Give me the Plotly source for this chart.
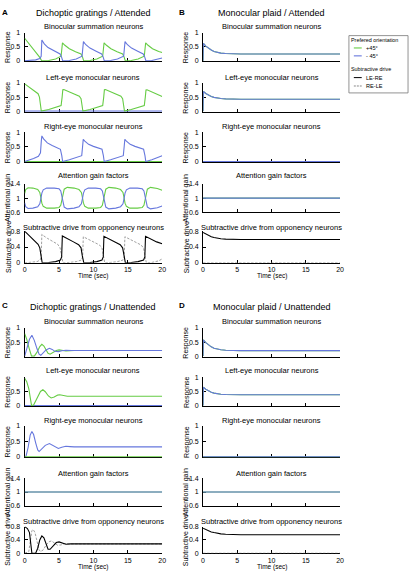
import plotly.graph_objects as go

# ---------------- data (time in s, value) ----------------
FLAT_T = [0, 20]
ZERO = [0, 0]
ONE = [1, 1]

# Panel A: dichoptic gratings / attended
A_bin_green = [(0,0.80),(0.6,0.62),(1.2,0.44),(1.8,0.26),(2.2,0.12),(2.4,0.03),(2.5,0.0),
    (3.5,0.01),(4.5,0.06),(5.3,0.16),(5.5,0.64),(5.85,0.55),(6.5,0.43),(7.4,0.32),(8.2,0.24),(8.42,0.13),(8.58,0.0),
    (9.5,0.01),(10.5,0.06),(11.35,0.16),(11.55,0.64),(11.9,0.55),(12.55,0.43),(13.45,0.32),(14.25,0.24),(14.47,0.13),(14.63,0.0),
    (15.5,0.01),(16.5,0.06),(17.4,0.16),(17.6,0.64),(17.95,0.55),(18.6,0.43),(19.5,0.33),(20,0.29)]
A_bin_blue = [(0,0.0),(0.8,0.01),(1.6,0.03),(2.2,0.08),(2.4,0.16),(2.5,0.74),(2.85,0.6),(3.4,0.47),(4.3,0.34),(5.15,0.24),(5.37,0.13),(5.53,0.0),
    (6.5,0.01),(7.5,0.06),(8.35,0.16),(8.55,0.68),(8.9,0.57),(9.5,0.45),(10.4,0.34),(11.2,0.24),(11.42,0.13),(11.58,0.0),
    (12.5,0.01),(13.5,0.06),(14.4,0.16),(14.6,0.68),(14.95,0.57),(15.55,0.45),(16.45,0.34),(17.25,0.24),(17.47,0.13),(17.63,0.0),
    (18.5,0.01),(19.5,0.06),(20,0.1)]
A_le_green = [(0,0.97),(0.5,0.88),(1.0,0.79),(1.5,0.7),(1.95,0.62),(2.15,0.5),(2.3,0.15),(2.42,0.0),
    (3.5,0.06),(4.5,0.13),(5.3,0.2),(5.45,0.5),(5.55,0.76),(5.7,0.77),(6.5,0.68),(7.3,0.6),(7.95,0.53),(8.2,0.44),(8.35,0.12),(8.47,0.0),
    (9.5,0.06),(10.5,0.13),(11.35,0.2),(11.5,0.5),(11.6,0.76),(11.75,0.77),(12.55,0.68),(13.35,0.6),(14.0,0.53),(14.25,0.44),(14.4,0.12),(14.52,0.0),
    (15.5,0.06),(16.5,0.13),(17.4,0.2),(17.55,0.5),(17.65,0.75),(17.8,0.76),(18.6,0.67),(19.4,0.58),(20,0.52)]
A_re_blue = [(0,0.0),(0.6,0.04),(1.3,0.1),(2.0,0.18),(2.3,0.3),(2.42,0.7),(2.5,0.88),(2.75,0.78),(3.3,0.64),(4.0,0.55),(4.8,0.48),(5.2,0.42),(5.4,0.2),(5.52,0.0),
    (6.5,0.06),(7.5,0.13),(8.3,0.2),(8.42,0.5),(8.52,0.76),(8.75,0.7),(9.3,0.59),(10.0,0.52),(10.8,0.47),(11.25,0.42),(11.45,0.2),(11.57,0.0),
    (12.5,0.06),(13.5,0.13),(14.35,0.2),(14.47,0.5),(14.57,0.76),(14.8,0.7),(15.35,0.59),(16.05,0.52),(16.85,0.47),(17.3,0.42),(17.5,0.2),(17.62,0.0),
    (18.5,0.06),(19.5,0.14),(20,0.2)]
A_att_green = [(0,1.13),(0.15,1.24),(0.5,1.29),(1.2,1.28),(1.9,1.24),(2.2,1.16),(2.35,1.02),(2.5,0.86),(2.7,0.77),(3.2,0.72),(4.3,0.72),(5.0,0.74),
    (5.25,0.8),(5.4,0.94),(5.55,1.12),(5.75,1.25),(6.2,1.3),(7.2,1.28),(7.9,1.24),(8.25,1.16),(8.4,1.02),(8.55,0.86),(8.75,0.77),(9.25,0.72),
    (10.35,0.72),(11.05,0.74),(11.3,0.8),(11.45,0.94),(11.6,1.12),(11.8,1.25),(12.25,1.3),(13.25,1.28),(13.95,1.24),(14.3,1.16),(14.45,1.02),
    (14.6,0.86),(14.8,0.77),(15.3,0.72),(16.4,0.72),(17.1,0.74),(17.35,0.8),(17.5,0.94),(17.65,1.12),(17.85,1.25),(18.3,1.3),(19.3,1.27),(20,1.22)]
A_att_blue = [(0,0.87),(0.15,0.76),(0.5,0.71),(1.2,0.72),(1.9,0.76),(2.2,0.84),(2.35,0.98),(2.5,1.14),(2.7,1.23),(3.2,1.28),(4.3,1.28),(5.0,1.26),
    (5.25,1.2),(5.4,1.06),(5.55,0.88),(5.75,0.75),(6.2,0.7),(7.2,0.72),(7.9,0.76),(8.25,0.84),(8.4,0.98),(8.55,1.14),(8.75,1.23),(9.25,1.28),
    (10.35,1.28),(11.05,1.26),(11.3,1.2),(11.45,1.06),(11.6,0.88),(11.8,0.75),(12.25,0.7),(13.25,0.72),(13.95,0.76),(14.3,0.84),(14.45,0.98),
    (14.6,1.14),(14.8,1.23),(15.3,1.28),(16.4,1.28),(17.1,1.26),(17.35,1.2),(17.5,1.06),(17.65,0.88),(17.85,0.75),(18.3,0.7),(19.3,0.73),(20,0.78)]
A_sub_LERE = [(0,0.8),(0.5,0.71),(1.0,0.62),(1.5,0.54),(1.95,0.47),(2.2,0.38),(2.35,0.18),(2.45,0.04),(2.55,0.0),
    (3.5,0.01),(4.5,0.03),(5.2,0.07),(5.38,0.15),(5.48,0.68),(5.6,0.67),(6.3,0.6),(7.1,0.53),(7.85,0.46),(8.2,0.38),(8.38,0.18),(8.5,0.04),(8.6,0.0),
    (9.5,0.01),(10.5,0.03),(11.25,0.07),(11.43,0.15),(11.53,0.67),(11.65,0.66),(12.35,0.59),(13.15,0.52),(13.9,0.46),(14.25,0.38),(14.43,0.18),(14.55,0.04),(14.65,0.0),
    (15.5,0.01),(16.5,0.03),(17.3,0.07),(17.48,0.15),(17.58,0.67),(17.7,0.66),(18.4,0.59),(19.2,0.53),(20,0.48)]
A_sub_RELE = [(0,0.0),(1.0,0.01),(1.8,0.03),(2.25,0.07),(2.4,0.15),(2.5,0.72),(2.62,0.7),(3.3,0.62),(4.1,0.54),(4.8,0.47),(5.15,0.38),(5.35,0.18),(5.47,0.04),(5.57,0.0),
    (6.5,0.01),(7.5,0.03),(8.25,0.07),(8.43,0.15),(8.53,0.66),(8.65,0.65),(9.35,0.58),(10.15,0.51),(10.9,0.45),(11.25,0.37),(11.43,0.18),(11.55,0.04),(11.65,0.0),
    (12.5,0.01),(13.5,0.03),(14.3,0.07),(14.48,0.15),(14.58,0.66),(14.7,0.65),(15.4,0.58),(16.2,0.51),(16.95,0.45),(17.3,0.37),(17.48,0.18),(17.6,0.04),(17.7,0.0),
    (18.5,0.01),(19.5,0.05),(20,0.1)]

# Panel B: monocular plaid / attended
B_bin = [(0,0.0),(0.05,0.62),(0.4,0.52),(0.8,0.44),(1.2,0.38),(1.6,0.33),(2.0,0.3),(2.6,0.27),(3.3,0.255),(4.2,0.245),(5.5,0.24),(20,0.24)]
B_le = [(0,0.0),(0.05,0.7),(0.4,0.63),(0.8,0.57),(1.2,0.52),(1.6,0.49),(2.0,0.47),(2.6,0.45),(3.3,0.435),(4.2,0.43),(5.5,0.425),(20,0.425)]
B_sub = [(0,0.77),(0.4,0.73),(0.8,0.69),(1.2,0.66),(1.6,0.64),(2.0,0.625),(2.6,0.61),(3.3,0.6),(4.2,0.595),(5.5,0.59),(20,0.59)]

# Panel C: dichoptic gratings / unattended
C_bin_green = [(0,0.8),(0.3,0.6),(0.6,0.32),(0.85,0.06),(1.0,0.0),(1.4,0.0),(1.8,0.14),(2.2,0.34),(2.5,0.42),(2.8,0.36),(3.1,0.22),(3.4,0.1),
    (3.7,0.07),(4.1,0.13),(4.6,0.2),(5.0,0.22),(5.5,0.2),(6.0,0.18),(6.6,0.19),(7.2,0.2),(20,0.2)]
C_bin_blue = [(0,0.0),(0.3,0.25),(0.7,0.6),(1.05,0.74),(1.4,0.56),(1.8,0.26),(2.1,0.07),(2.35,0.03),(2.7,0.11),(3.1,0.22),(3.6,0.28),(4.0,0.24),
    (4.4,0.17),(4.9,0.16),(5.4,0.19),(6.0,0.21),(6.8,0.2),(20,0.2)]
C_le_green = [(0,0.97),(0.3,0.85),(0.6,0.6),(0.85,0.2),(1.0,0.0),(1.3,0.02),(1.8,0.25),(2.3,0.5),(2.65,0.56),(3.0,0.49),(3.45,0.34),(3.85,0.27),
    (4.3,0.3),(4.8,0.37),(5.1,0.38),(5.6,0.35),(6.2,0.33),(7.0,0.33),(20,0.33)]
C_re_blue = [(0,0.0),(0.2,0.02),(0.5,0.3),(0.8,0.7),(1.05,0.82),(1.3,0.72),(1.6,0.45),(1.9,0.22),(2.1,0.17),(2.5,0.25),(3.0,0.37),(3.6,0.43),
    (4.1,0.37),(4.6,0.29),(4.9,0.27),(5.4,0.31),(6.0,0.34),(6.6,0.33),(7.2,0.32),(20,0.32)]
C_sub_LERE = [(0,0.8),(0.4,0.74),(0.7,0.62),(0.85,0.4),(0.95,0.12),(1.05,0.0),(1.6,0.0),(1.9,0.15),(2.2,0.4),(2.5,0.52),(2.8,0.46),(3.1,0.26),
    (3.4,0.12),(3.7,0.12),(4.1,0.22),(4.6,0.32),(5.0,0.34),(5.5,0.3),(6.0,0.27),(6.7,0.28),(20,0.28)]
C_sub_RELE = [(0,0.0),(0.6,0.05),(0.85,0.4),(1.05,0.68),(1.25,0.71),(1.5,0.62),(1.8,0.36),(2.05,0.12),(2.3,0.05),(2.7,0.1),(3.1,0.24),(3.5,0.34),
    (3.9,0.37),(4.3,0.31),(4.8,0.24),(5.3,0.25),(5.8,0.29),(6.5,0.28),(20,0.28)]

# Panel D: monocular plaid / unattended
D_bin = [(0,0.0),(0.05,0.58),(0.4,0.48),(0.8,0.39),(1.2,0.33),(1.6,0.28),(2.0,0.25),(2.6,0.225),(3.3,0.21),(4.2,0.2),(5.5,0.196),(20,0.196)]
D_le = [(0,0.0),(0.05,0.65),(0.4,0.58),(0.8,0.52),(1.2,0.47),(1.6,0.44),(2.0,0.42),(2.6,0.4),(3.3,0.39),(4.2,0.385),(5.5,0.38),(20,0.38)]
D_sub = [(0,0.75),(0.4,0.71),(0.8,0.67),(1.2,0.64),(1.6,0.62),(2.0,0.6),(2.6,0.58),(3.3,0.57),(4.2,0.56),(5.5,0.555),(20,0.555)]

PANEL_TITLES = ["Dichoptic gratings / Attended", "Monocular plaid / Attended",
                "Dichoptic gratings / Unattended", "Monocular plaid / Unattended"]
PANEL_LETTERS = ["A", "B", "C", "D"]
ROW_TITLES = ["Binocular summation neurons", "Left-eye monocular neurons", "Right-eye monocular neurons",
              "Attention gain factors", "Subtractive drive from opponency neurons"]
ROW_YLABELS = ["Response", "Response", "Response", "Attentional gain", "Subtractive drive"]
X_TICKS = [0, 5, 10, 15, 20]
LEGEND_HEAD_1 = "Prefered orientation"
LEGEND_ORI = ["+45°", "- 45°"]
LEGEND_HEAD_2 = "Subtractive drive"
LEGEND_SUB = ["LE-RE", "RE-LE"]

# ---------------- styles / layout ----------------
W, H = 415, 577
FONT = "Liberation Sans, Arial, Helvetica, sans-serif"
GREEN = "#66cc44"
BLUE = "#6677dd"
BLACK = "#000000"
DASH = "#888888"

COLS = [(23, 162.5), (204, 343), (23, 162.5), (204, 343)]
ROWS_TOP = [(29, 58), (80, 109), (130, 160), (182, 211), (230, 262)]
ROWS_BOT = [(328, 357), (378, 407), (427, 459), (480, 508), (529, 556)]
TITLE_Y_TOP = [23, 74, 124, 174, 226]
TITLE_Y_BOT = [321, 371, 422, 475, 524]


def unz(pairs):
    return [p[0] for p in pairs], [p[1] for p in pairs]


def px_x(x):
    return x / W


def px_y(y):
    return 1 - y / H


def flat(vals):
    return list(zip(FLAT_T, vals))


fig = go.Figure()

panels = [
    [  # A
        [(A_bin_green, GREEN, None), (A_bin_blue, BLUE, None)],
        [(flat(ZERO), BLUE, None), (A_le_green, GREEN, None)],
        [(flat(ZERO), GREEN, None), (A_re_blue, BLUE, None)],
        [(A_att_green, GREEN, None), (A_att_blue, BLUE, None)],
        [(A_sub_RELE, DASH, "2.5px,1.5px"), (A_sub_LERE, BLACK, None)],
    ],
    [  # B
        [(B_bin, GREEN, None), (B_bin, BLUE, None)],
        [(B_le, GREEN, None), (B_le, BLUE, None)],
        [(flat(ZERO), GREEN, None), (flat(ZERO), BLUE, None)],
        [(flat(ONE), GREEN, None), (flat(ONE), BLUE, None)],
        [(flat(ZERO), DASH, "2.5px,1.5px"), (B_sub, BLACK, None)],
    ],
    [  # C
        [(C_bin_green, GREEN, None), (C_bin_blue, BLUE, None)],
        [(flat(ZERO), BLUE, None), (C_le_green, GREEN, None)],
        [(C_re_blue, BLUE, None), (flat(ZERO), GREEN, None)],
        [(flat(ONE), GREEN, None), (flat(ONE), BLUE, None)],
        [(C_sub_RELE, DASH, "2.5px,1.5px"), (C_sub_LERE, BLACK, None)],
    ],
    [  # D
        [(D_bin, GREEN, None), (D_bin, BLUE, None)],
        [(D_le, GREEN, None), (D_le, BLUE, None)],
        [(flat(ZERO), GREEN, None), (flat(ZERO), BLUE, None)],
        [(flat(ONE), GREEN, None), (flat(ONE), BLUE, None)],
        [(flat(ZERO), DASH, "2.5px,1.5px"), (D_sub, BLACK, None)],
    ],
]

annotations = []
shapes = []
axis_common = dict(showline=True, linecolor="black", linewidth=1, ticks="inside", ticklen=3,
                   tickcolor="black", tickwidth=1, showgrid=False, zeroline=False,
                   tickfont=dict(size=7, family=FONT, color="black"), layer="below traces")


def txt(text, x, y, size=7, xanchor="center", angle=0):
    annotations.append(dict(text=text, x=px_x(x), y=px_y(y), xref="paper", yref="paper",
                            showarrow=False, xanchor=xanchor, yanchor="middle", textangle=angle,
                            borderpad=0, font=dict(size=size, family=FONT, color="black")))


for p in range(4):
    x0, x1 = COLS[p]
    rows = ROWS_TOP if p < 2 else ROWS_BOT
    tys = TITLE_Y_TOP if p < 2 else TITLE_Y_BOT
    for r in range(5):
        n = p * 5 + r + 1
        xa = "x" if n == 1 else f"x{n}"
        ya = "y" if n == 1 else f"y{n}"
        for pairs, color, dash in panels[p][r]:
            tx, vy = unz(pairs)
            fig.add_trace(go.Scatter(x=tx, y=vy, mode="lines", xaxis=xa, yaxis=ya,
                                     line=dict(color=color, width=1.1 if dash is None else 0.8, dash=dash),
                                     showlegend=False, hoverinfo="skip"))
        y0, y1 = rows[r]
        xkey = "xaxis" if n == 1 else f"xaxis{n}"
        ykey = "yaxis" if n == 1 else f"yaxis{n}"
        xax = dict(axis_common, domain=[px_x(x0), px_x(x1)], anchor=ya, range=[0, 20],
                   tickvals=X_TICKS, showticklabels=(r == 4), ticklabelstandoff=0)
        if r < 3:
            tv, tt, rg = [0, 0.5, 1], ["0", "0.5", "1"], [-0.02, 1]
            if p == 2 and r == 0:
                tt = ["", "0.5", "1"]
            if p == 2 and r == 1:
                tt = ["0", "0.5", ""]
        elif r == 3:
            tv, tt, rg = [0.6, 1, 1.4], ["0.6", "1", "1.4"], [0.6, 1.4]
        else:
            tv, tt, rg = [0, 0.4, 0.8], ["0", "0.4", "0.8"], [0, 0.8]
        yax = dict(axis_common, domain=[px_y(y1), px_y(y0)], anchor=xa, range=rg,
                   tickvals=tv, ticktext=tt, ticklabelstandoff=2)
        fig.layout[xkey] = xax
        fig.layout[ykey] = yax
        txt(ROW_TITLES[r], (x0 + x1) / 2, tys[r], size=7.5)
        lx = 6 if p in (0, 2) else 187
        txt(ROW_YLABELS[r], lx, (y0 + y1) / 2, size=7, angle=-90)
    hy = 9 if p < 2 else 307
    txt(PANEL_TITLES[p], (x0 + x1) / 2, hy, size=9)
    lxx = 3 if p in (0, 2) else 183
    ly = 9 if p < 2 else 305
    txt("<b>" + PANEL_LETTERS[p] + "</b>", lxx, ly, size=8)
    ty = 275.5 if p < 2 else 569.5
    txt("Time (sec)", (x0 + x1) / 2, ty, size=6.5)

# ---------------- manual legend box ----------------
LX0, LY0, LX1, LY1 = 352, 32, 412, 90
shapes.append(dict(type="rect", xref="paper", yref="paper", x0=px_x(LX0), x1=px_x(LX1),
                   y0=px_y(LY1), y1=px_y(LY0), line=dict(color="#777777", width=0.8),
                   fillcolor="white", layer="above"))
txt(LEGEND_HEAD_1, 353.5, 36.5, size=5.4, xanchor="left")
for label, col, yy in [(LEGEND_ORI[0], GREEN, 44.5), (LEGEND_ORI[1], BLUE, 52.5)]:
    shapes.append(dict(type="line", xref="paper", yref="paper", x0=px_x(357), x1=px_x(365),
                       y0=px_y(yy), y1=px_y(yy), line=dict(color=col, width=1.1), layer="above"))
    txt(label, 368, yy, size=5.6, xanchor="left")
txt(LEGEND_HEAD_2, 353.5, 66, size=5.4, xanchor="left")
for label, col, dsh, yy in [(LEGEND_SUB[0], BLACK, None, 74.5), (LEGEND_SUB[1], DASH, "2px,1px", 83)]:
    shapes.append(dict(type="line", xref="paper", yref="paper", x0=px_x(357), x1=px_x(365),
                       y0=px_y(yy), y1=px_y(yy), line=dict(color=col, width=1, dash=dsh), layer="above"))
    txt(label, 368, yy, size=5.6, xanchor="left")

fig.update_layout(
    width=W, height=H, margin=dict(l=0, r=0, t=0, b=0),
    paper_bgcolor="white", plot_bgcolor="white",
    font=dict(family=FONT, size=7, color="black"),
    annotations=annotations, shapes=shapes, showlegend=False,
)

fig.write_html("out.html", config={"displayModeBar": False},
               post_script="document.body.style.margin='0px';document.body.style.overflow='hidden';")
